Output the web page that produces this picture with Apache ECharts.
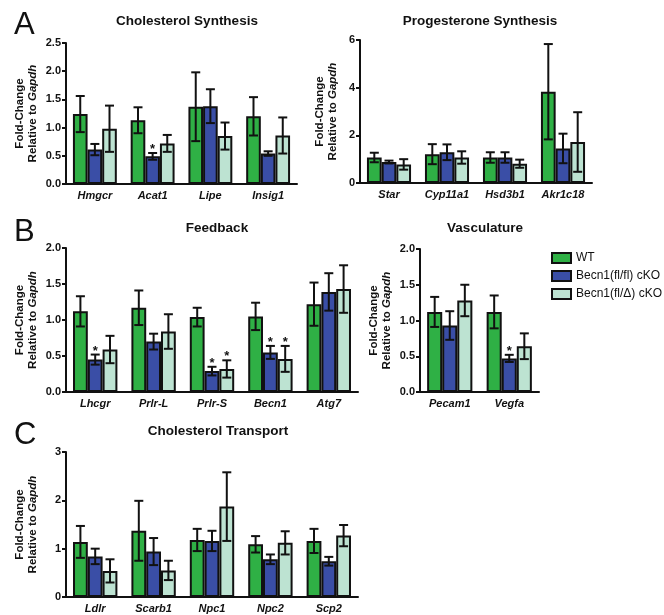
<!DOCTYPE html>
<html><head><meta charset="utf-8">
<script src="https://cdn.jsdelivr.net/npm/echarts@6/dist/echarts.min.js"></script>
<style>html,body{margin:0;padding:0;background:#fff}#c{width:664px;height:615px}</style>
</head><body><div id="c"></div>
<script>
// ---------- DATA ----------
const seriesNames = ['WT', 'Becn1(fl/fl) cKO', 'Becn1(fl/Δ) cKO'];

// A left: Cholesterol Synthesis
const csCats = ['Hmgcr', 'Acat1', 'Lipe', 'Insig1'];
const csWT = [1.24, 1.13, 1.37, 1.20];
const csWTerr = [0.32, 0.23, 0.61, 0.34];
const csFl = [0.61, 0.49, 1.38, 0.54];
const csFlErr = [0.10, 0.06, 0.30, 0.04];
const csDel = [0.98, 0.72, 0.85, 0.86];
const csDelErr = [0.41, 0.15, 0.24, 0.32];
const csStars = [[1, 1]];

// A right: Progesterone Synthesis
const psCats = ['Star', 'Cyp11a1', 'Hsd3b1', 'Akr1c18'];
const psWT = [1.07, 1.21, 1.07, 3.83];
const psWTerr = [0.20, 0.42, 0.22, 2.00];
const psFl = [0.88, 1.29, 1.07, 1.45];
const psFlErr = [0.06, 0.33, 0.22, 0.62];
const psDel = [0.78, 1.07, 0.81, 1.72];
const psDelErr = [0.22, 0.26, 0.17, 1.25];
const psStars = [];

// B left: Feedback
const fbCats = ['Lhcgr', 'Prlr-L', 'Prlr-S', 'Becn1', 'Atg7'];
const fbWT = [1.12, 1.17, 1.04, 1.05, 1.22];
const fbWTerr = [0.21, 0.24, 0.13, 0.19, 0.30];
const fbFl = [0.45, 0.70, 0.29, 0.55, 1.39];
const fbFlErr = [0.07, 0.11, 0.06, 0.09, 0.26];
const fbDel = [0.59, 0.84, 0.32, 0.46, 1.43];
const fbDelErr = [0.19, 0.24, 0.12, 0.18, 0.33];
const fbStars = [[0, 1], [2, 1], [2, 2], [3, 1], [3, 2]];

// B right: Vasculature
const vaCats = ['Pecam1', 'Vegfa'];
const vaWT = [1.12, 1.12];
const vaWTerr = [0.21, 0.23];
const vaFl = [0.93, 0.47];
const vaFlErr = [0.20, 0.05];
const vaDel = [1.28, 0.64];
const vaDelErr = [0.22, 0.18];
const vaStars = [[1, 1]];

// C: Cholesterol Transport
const ctCats = ['Ldlr', 'Scarb1', 'Npc1', 'Npc2', 'Scp2'];
const ctWT = [1.14, 1.37, 1.18, 1.09, 1.16];
const ctWTerr = [0.33, 0.62, 0.23, 0.17, 0.25];
const ctFl = [0.84, 0.94, 1.16, 0.78, 0.74];
const ctFlErr = [0.16, 0.28, 0.21, 0.10, 0.09];
const ctDel = [0.54, 0.55, 1.87, 1.12, 1.27];
const ctDelErr = [0.24, 0.20, 0.71, 0.24, 0.22];
const ctStars = [];

// ---------- STYLE / LAYOUT ----------
const colors = ['#2fb045', '#3a4ea6', '#bde3d2'];
const FONT = "'Liberation Sans', Arial, sans-serif";
const GAP = 0.24;

const panels = [
  {title: 'Cholesterol Synthesis', cats: csCats, vals: [csWT, csFl, csDel], errs: [csWTerr, csFlErr, csDelErr], stars: csStars,
   grid: {left: 66, top: 43, width: 231, height: 141}, max: 2.5, interval: 0.5, dec: 1, tx: 182, ty: 9, ng: 27},
  {title: 'Progesterone Synthesis', cats: psCats, vals: [psWT, psFl, psDel], errs: [psWTerr, psFlErr, psDelErr], stars: psStars,
   grid: {left: 360, top: 40, width: 232, height: 143}, max: 6, interval: 2, dec: 0, tx: 475, ty: 9, ng: 21},
  {title: 'Feedback', cats: fbCats, vals: [fbWT, fbFl, fbDel], errs: [fbWTerr, fbFlErr, fbDelErr], stars: fbStars,
   grid: {left: 66, top: 248, width: 292, height: 144}, max: 2, interval: 0.5, dec: 1, tx: 212, ty: 216, ng: 27},
  {title: 'Vasculature', cats: vaCats, vals: [vaWT, vaFl, vaDel], errs: [vaWTerr, vaFlErr, vaDelErr], stars: vaStars,
   grid: {left: 420, top: 249, width: 119, height: 143}, max: 2, interval: 0.5, dec: 1, tx: 480, ty: 216, ng: 27},
  {title: 'Cholesterol Transport', cats: ctCats, vals: [ctWT, ctFl, ctDel], errs: [ctWTerr, ctFlErr, ctDelErr], stars: ctStars,
   grid: {left: 66, top: 452, width: 292, height: 145}, max: 3, interval: 1, dec: 0, tx: 213, ty: 419, ng: 27}
];

const grids = [], xAxes = [], yAxes = [], series = [], titles = [];
panels.forEach((p, gi) => {
  grids.push(Object.assign({containLabel: false}, p.grid));
  titles.push({text: p.title, left: p.tx, top: p.ty, textAlign: 'center',
    textStyle: {fontFamily: FONT, fontSize: 13.5, fontWeight: 'bold', color: '#111'}});
  xAxes.push({type: 'category', gridIndex: gi, data: p.cats,
    axisLine: {lineStyle: {color: '#111', width: 2}}, axisTick: {show: false},
    axisLabel: {fontFamily: FONT, fontSize: 11, fontWeight: 'bold', fontStyle: 'italic', color: '#111', margin: 6}});
  yAxes.push({type: 'value', gridIndex: gi, min: 0, max: p.max, interval: p.interval,
    splitLine: {show: false},
    axisLine: {show: true, lineStyle: {color: '#111', width: 2}},
    axisTick: {show: true, length: 4, lineStyle: {width: 2, color: '#111'}},
    axisLabel: {fontFamily: FONT, fontSize: 11, fontWeight: 'bold', color: '#111', margin: 5,
      formatter: v => v.toFixed(p.dec)},
    name: '{a|Fold-Change}\n{a|Relative to }{i|Gapdh}', nameLocation: 'middle', nameRotate: 90, nameGap: p.ng,
    nameTextStyle: {lineHeight: 13, rich: {
      a: {fontFamily: FONT, fontSize: 11.5, fontWeight: 'bold', color: '#111', lineHeight: 13},
      i: {fontFamily: FONT, fontSize: 11.5, fontWeight: 'bold', fontStyle: 'italic', color: '#111', lineHeight: 13}}}});
  for (let s = 0; s < 3; s++) {
    series.push({type: 'bar', name: seriesNames[s], xAxisIndex: gi, yAxisIndex: gi, data: p.vals[s],
      barGap: '0%', barCategoryGap: (GAP * 100) + '%',
      itemStyle: {color: colors[s], borderColor: '#111', borderWidth: 2}});
  }
  const errData = [];
  for (let s = 0; s < 3; s++) {
    p.vals[s].forEach((v, c) => {
      const star = p.stars.some(st => st[0] === c && st[1] === s) ? 1 : 0;
      errData.push([c, v, p.errs[s][c], s, star]);
    });
  }
  series.push({type: 'custom', xAxisIndex: gi, yAxisIndex: gi, data: errData, z: 10, silent: true,
    encode: {x: 0, y: 1},
    renderItem: (params, api) => {
      const c = api.value(0), m = api.value(1), e = api.value(2), s = api.value(3), star = api.value(4);
      const band = api.size([1, 0])[0];
      const bw = band * (1 - GAP) / 3;
      const cx = api.coord([c, 0])[0] + (s - 1) * bw;
      const yt = api.coord([c, m + e])[1];
      const yb = api.coord([c, Math.max(0, m - e)])[1];
      const hw = 4.5;
      const st = {stroke: '#111', lineWidth: 2};
      const ch = [
        {type: 'line', shape: {x1: cx, y1: yt, x2: cx, y2: yb}, style: st},
        {type: 'line', shape: {x1: cx - hw, y1: yt, x2: cx + hw, y2: yt}, style: st},
        {type: 'line', shape: {x1: cx - hw, y1: yb, x2: cx + hw, y2: yb}, style: st}
      ];
      if (star) ch.push({type: 'text', style: {text: '*', x: cx, y: yt + 3, align: 'center', verticalAlign: 'bottom',
        font: 'bold 13px ' + FONT, fill: '#111'}});
      return {type: 'group', children: ch};
    }});
});

const chart = echarts.init(document.getElementById('c'), null, {renderer: 'canvas'});
chart.setOption({
  animation: false,
  backgroundColor: '#fff',
  title: titles,
  grid: grids, xAxis: xAxes, yAxis: yAxes, series: series,
  legend: {data: seriesNames, orient: 'vertical', left: 546, top: 246, icon: 'rect',
    itemWidth: 19, itemHeight: 10, itemGap: 4,
    textStyle: {fontFamily: FONT, fontSize: 12, color: '#111', lineHeight: 14}},
  graphic: [
    {type: 'text', left: 14, top: 10, style: {text: 'A', font: '31px ' + FONT, fill: '#111'}},
    {type: 'text', left: 14, top: 217, style: {text: 'B', font: '31px ' + FONT, fill: '#111'}},
    {type: 'text', left: 14, top: 420, style: {text: 'C', font: '31px ' + FONT, fill: '#111'}}
  ]
});
</script></body></html>
